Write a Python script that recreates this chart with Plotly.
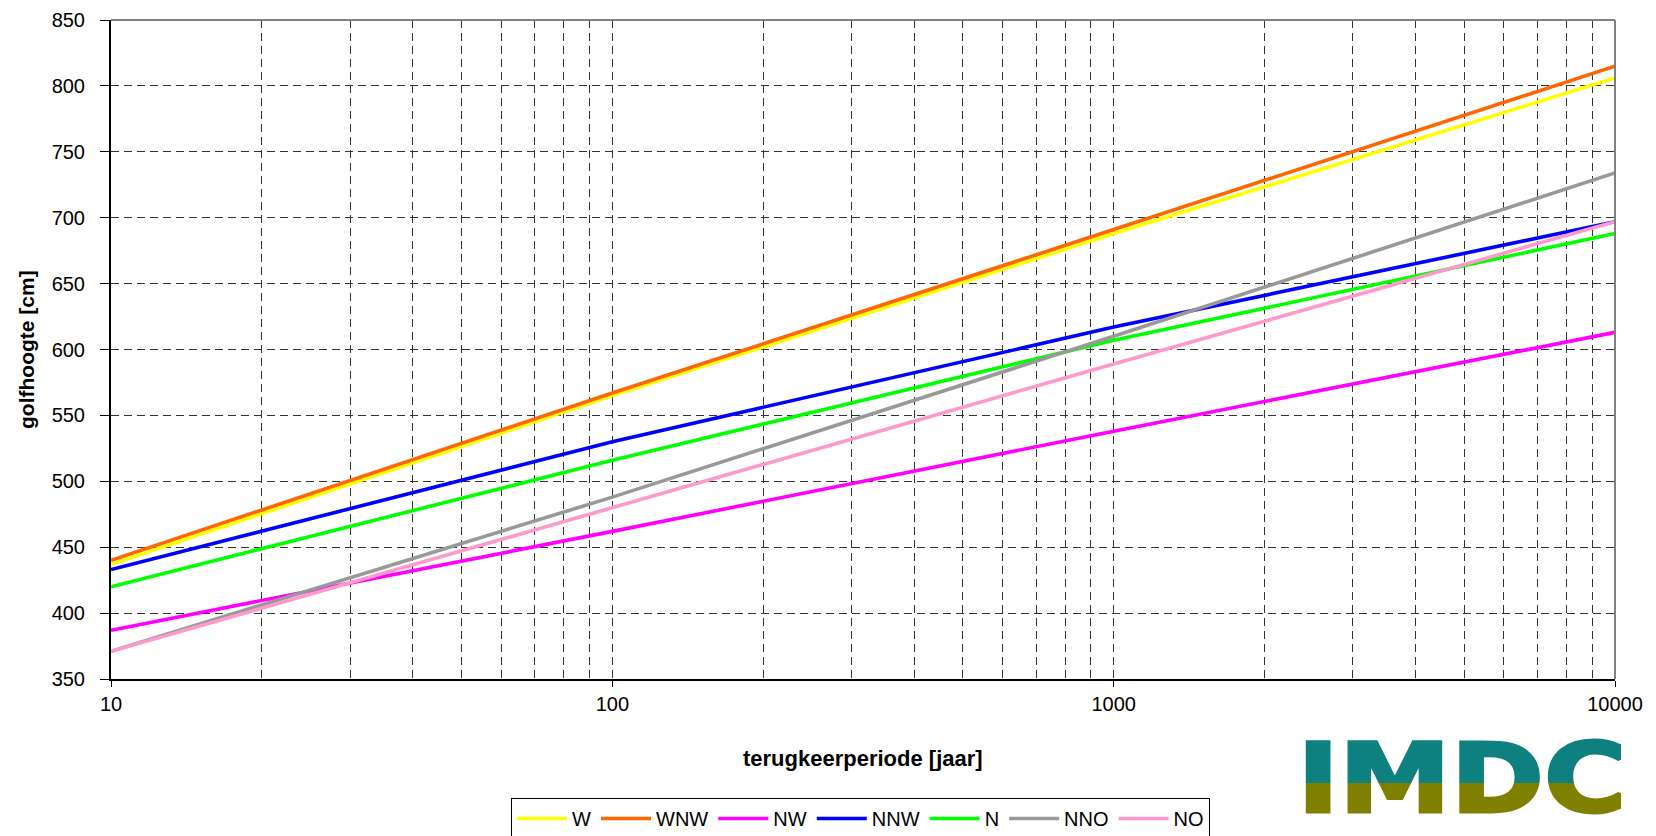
import plotly.graph_objects as go

# Data
return_periods = [10, 100, 1000, 10000]
series_names = ["W", "WNW", "NW", "NNW", "N", "NNO", "NO"]
W = [437, 565, 688, 806]
WNW = [440, 567, 691, 815]
NW = [387, 462, 538, 613]
NNW = [433, 530, 617, 697]
N = [420, 516, 607, 688]
NNO = [371, 488, 610, 734]
NO = [371, 480, 589, 697]
series_values = [W, WNW, NW, NNW, N, NNO, NO]
colors = ["#FFFF00", "#FF6600", "#FF00FF", "#0000FF", "#00FF00", "#999999", "#FF99CC"]

y_ticks = list(range(350, 851, 50))
x_major = [10, 100, 1000, 10000]
x_major_text = ["10", "100", "1000", "10000"]
x_minor = [m * d for d in (10, 100, 1000) for m in range(2, 10)]

logo_text = "IMDC"

# page is rendered with the default 8px body margin -> work in figure coordinates
OFF = 8
W_FIG, H_FIG = 1656 - OFF, 836 - OFF


def px(xp):
    return (xp - OFF) / W_FIG


def py(yp):
    return 1 - (yp - OFF) / H_FIG


L, R, T, B = 111, 1615, 20, 679  # plot area in page pixels

fig = go.Figure()
for name, vals, col in zip(series_names, series_values, colors):
    fig.add_trace(go.Scatter(x=return_periods, y=vals, mode="lines", name=name,
                             line=dict(color=col, width=3.6)))

# Logo text (recoloured / fitted in the page script below)
fig.add_trace(go.Scatter(x=[px(1463)], y=[py(790)], mode="text", text=[logo_text],
                         textposition="middle center", showlegend=False, hoverinfo="skip",
                         textfont=dict(color="#0E8080", family="DejaVu Sans", size=96, weight="bold"),
                         xaxis="x2", yaxis="y2", cliponaxis=False))

grid_dash = "8px,5px"
fig.update_layout(
    width=W_FIG, height=H_FIG,
    margin=dict(l=0, r=0, t=0, b=0, autoexpand=False),
    paper_bgcolor="white", plot_bgcolor="white",
    font=dict(family="Liberation Sans, Arial", color="black", size=20),
    showlegend=True,
    legend=dict(orientation="h", x=px(511), y=py(798), xanchor="left", yanchor="top",
                bordercolor="black", borderwidth=1, bgcolor="white", itemwidth=50,
                font=dict(size=20), traceorder="normal"),
    xaxis=dict(type="log", domain=[px(L), px(R)], range=[1, 4], automargin=False,
               tickvals=x_major, ticktext=x_major_text, ticks="outside", ticklen=6,
               tickcolor="black", tickwidth=1, ticklabelstandoff=0,
               showline=True, linecolor="black", linewidth=2,
               showgrid=True, gridcolor="#333333", gridwidth=1, griddash=grid_dash,
               minor=dict(tickvals=x_minor, showgrid=True, gridcolor="#333333", gridwidth=1,
                          griddash=grid_dash, ticks=""),
               zeroline=False, tickfont=dict(size=20)),
    yaxis=dict(domain=[py(B), py(T)], range=[350, 850], automargin=False,
               tickvals=y_ticks, ticks="outside", ticklen=9, tickcolor="black", tickwidth=1,
               ticklabelstandoff=11,
               showline=True, linecolor="black", linewidth=2,
               showgrid=True, gridcolor="#333333", gridwidth=1, griddash=grid_dash,
               zeroline=False, tickfont=dict(size=20)),
    xaxis2=dict(domain=[0.77, 0.995], range=[0.77, 0.995], visible=False, anchor="y2", fixedrange=True),
    yaxis2=dict(domain=[0.0, 0.15], range=[0.0, 0.15], visible=False, anchor="x2", fixedrange=True),
    annotations=[
        dict(text="<b>golfhoogte [cm]</b>", xref="paper", yref="paper", x=px(26), y=py(350),
             textangle=-90, showarrow=False, font=dict(size=21), xanchor="center", yanchor="middle"),
        dict(text="<b>terugkeerperiode [jaar]</b>", xref="paper", yref="paper", x=px(863),
             y=py(758), showarrow=False, font=dict(size=22), xanchor="center", yanchor="middle"),
    ],
    shapes=[
        dict(type="line", xref="x domain", yref="y domain", x0=0, x1=1, y0=1, y1=1,
             line=dict(color="#808080", width=2)),
        dict(type="line", xref="x domain", yref="y domain", x0=1, x1=1, y0=0, y1=1,
             line=dict(color="#808080", width=2)),
    ],
)

# Two-tone logo: fit the IMDC text into the logo box and give it a teal/olive split fill
logo_js = """
(function(){
  var gd = document.getElementById('{plot_id}');
  function fix(){
    var t = null;
    gd.querySelectorAll('.textpoint text').forEach(function(e){ if (e.textContent === 'IMDC') t = e; });
    if (!t) return;
    var NS = 'http://www.w3.org/2000/svg';
    var svg = t.ownerSVGElement;
    var fs = 96, asc = 0.928, desc = 0.236, capH = 0.729, sw = 3;
    var b = t.getBBox();
    var capTop = b.y + b.height * (asc - capH) / (asc + desc);
    var capBot = b.y + b.height * asc / (asc + desc);
    var visL = b.x + 0.085 * fs, visR = b.x + b.width - 0.055 * fs;
    var m = t.parentNode.getScreenCTM();
    var tl = (1305 - m.e) / m.a, tr = (1622 - m.e) / m.a;
    var tt = (741 - m.f) / m.d, tb = (814 - m.f) / m.d;
    var sx = (tr - tl) / (visR - visL + sw), sy = (tb - tt) / (capBot - capTop + sw);
    var tx = tl - sx * (visL - sw / 2), ty = tt - sy * (capTop - sw / 2);
    t.setAttribute('transform', 'matrix(' + sx + ',0,0,' + sy + ',' + tx + ',' + ty + ')');
    var split = capTop - sw / 2 + 0.575 * (capBot - capTop + sw);
    var defs = svg.querySelector('defs');
    if (!defs) { defs = document.createElementNS(NS, 'defs'); svg.insertBefore(defs, svg.firstChild); }
    var g = document.createElementNS(NS, 'linearGradient');
    g.setAttribute('id', 'imdcgrad');
    g.setAttribute('gradientUnits', 'userSpaceOnUse');
    g.setAttribute('x1', '0'); g.setAttribute('x2', '0');
    g.setAttribute('y1', String(split - 0.3)); g.setAttribute('y2', String(split + 0.3));
    [['0', '#0E8080'], ['1', '#808000']].forEach(function(s){
      var st = document.createElementNS(NS, 'stop');
      st.setAttribute('offset', s[0]); st.setAttribute('stop-color', s[1]);
      g.appendChild(st);
    });
    defs.appendChild(g);
    t.style.fill = 'url(#imdcgrad)';
    t.style.stroke = 'url(#imdcgrad)';
    t.style.strokeWidth = String(sw);
    t.style.strokeLinejoin = 'miter';
  }
  try { fix(); } catch (e) {}
})();
"""

fig.write_html("out.html", post_script=logo_js)
